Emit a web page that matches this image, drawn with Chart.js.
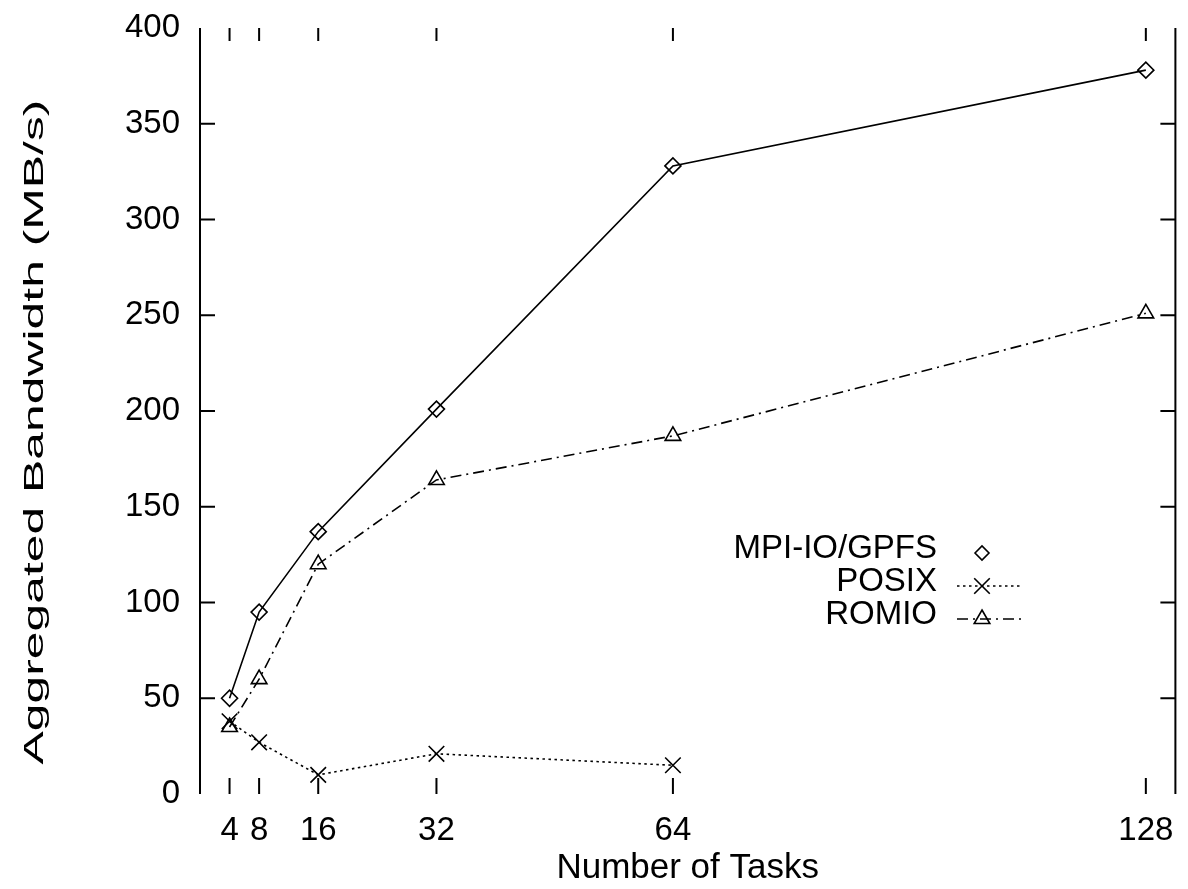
<!DOCTYPE html>
<html><head><meta charset="utf-8">
<script src="https://cdn.jsdelivr.net/npm/chart.js@4.4.0/dist/chart.umd.min.js"></script>
<style>html,body{margin:0;padding:0;background:#fff;overflow:hidden}</style>
</head><body>
<canvas id="c" width="1188" height="889"></canvas>
<script>
// ---- data ----
const tasks = [4, 8, 16, 32, 64, 128];
const mpiioGpfs = [50, 95, 137, 201, 328, 378];
const posixTasks = [4, 8, 16, 32, 64];
const posix = [38, 27, 10, 21, 15];
const romio = [35, 60, 120, 164, 187, 251];
const xTickValues = [4, 8, 16, 32, 64, 128];
const yTickValues = [0, 50, 100, 150, 200, 250, 300, 350, 400];
const seriesLabels = ['MPI-IO/GPFS', 'POSIX', 'ROMIO'];
const xTitle = 'Number of Tasks';
const yTitle = 'Aggregated Bandwidth (MB/s)';

const FONT = "'Liberation Sans', Arial, Helvetica, sans-serif";
Chart.defaults.font.family = FONT;
Chart.defaults.color = '#000';

const toXY = (xs, ys) => xs.map((x, i) => ({x: x, y: ys[i]}));

// frame: left/right borders and inward ticks on all four sides
const framePlugin = {
  id: 'frame',
  afterDraw(chart) {
    const {ctx, chartArea: a, scales: {x, y}} = chart;
    ctx.save();
    ctx.strokeStyle = '#000';
    ctx.lineWidth = 2;
    ctx.beginPath();
    ctx.moveTo(a.left, a.top); ctx.lineTo(a.left, a.bottom);
    ctx.moveTo(a.right, a.top); ctx.lineTo(a.right, a.bottom);
    const L = 15;
    yTickValues.forEach(v => {
      if (v === 0 || v === 400) return;
      const py = y.getPixelForValue(v);
      ctx.moveTo(a.left, py); ctx.lineTo(a.left + L, py);
      ctx.moveTo(a.right, py); ctx.lineTo(a.right - L, py);
    });
    xTickValues.forEach(v => {
      const px = x.getPixelForValue(v);
      ctx.moveTo(px, a.top); ctx.lineTo(px, a.top + 13);
      ctx.moveTo(px, a.bottom); ctx.lineTo(px, a.bottom - 16);
    });
    ctx.stroke();

    // y axis title (stretched along its direction like the scanned original)
    ctx.font = '28px ' + FONT;
    ctx.fillStyle = '#000';
    ctx.textAlign = 'center';
    ctx.textBaseline = 'alphabetic';
    ctx.translate(43, 432);
    ctx.rotate(-Math.PI / 2);
    ctx.scale(1.78, 1);
    ctx.fillText(yTitle, 0, 0);
    ctx.restore();
  }
};

// gnuplot-like key: right-aligned text, sample on the right
const keyPlugin = {
  id: 'key',
  afterDraw(chart) {
    const {ctx} = chart;
    const textRight = 937, sampleL = 957, sampleR = 1022, markX = 982;
    const baselines = [558, 591, 624];
    ctx.save();
    ctx.font = '33px ' + FONT;
    ctx.fillStyle = '#000';
    ctx.textAlign = 'right';
    ctx.textBaseline = 'alphabetic';
    chart.data.datasets.forEach((ds, i) => {
      const b = baselines[i];
      ctx.fillStyle = '#000';
      ctx.fillText(ds.label, textRight, b);
      const my = b - 5;
      if (i > 0) {
        ctx.save();
        ctx.strokeStyle = '#000';
        ctx.lineWidth = ds.borderWidth;
        ctx.setLineDash(ds.borderDash || []);
        ctx.beginPath();
        ctx.moveTo(sampleL, my); ctx.lineTo(sampleR, my);
        ctx.stroke();
        ctx.restore();
      }
      ctx.strokeStyle = '#000';
      ctx.lineWidth = ds.pointBorderWidth;
      ctx.fillStyle = 'rgba(0,0,0,0)';
      Chart.helpers.drawPoint(ctx, {pointStyle: ds.pointStyle, radius: ds.pointRadius - (i === 0 ? 1 : 0), rotation: 0, borderWidth: ds.pointBorderWidth}, markX, my);
    });
    ctx.restore();
  }
};

new Chart(document.getElementById('c'), {
  type: 'line',
  data: {
    datasets: [
      {label: seriesLabels[0], data: toXY(tasks, mpiioGpfs), borderColor: '#000', borderWidth: 1.6,
       pointStyle: 'rectRot', pointRadius: 8, pointBorderWidth: 1.6, pointBorderColor: '#000',
       pointBackgroundColor: 'rgba(0,0,0,0)', backgroundColor: 'rgba(0,0,0,0)', tension: 0},
      {label: seriesLabels[1], data: toXY(posixTasks, posix), borderColor: '#000', borderWidth: 1.6,
       borderDash: [2.5, 3.5], pointStyle: 'crossRot', pointRadius: 11, pointBorderWidth: 1.6,
       pointBorderColor: '#000', pointBackgroundColor: 'rgba(0,0,0,0)', backgroundColor: 'rgba(0,0,0,0)', tension: 0},
      {label: seriesLabels[2], data: toXY(tasks, romio), borderColor: '#000', borderWidth: 1.6,
       borderDash: [11, 5, 2, 5], pointStyle: 'triangle', pointRadius: 9, pointBorderWidth: 1.6,
       pointBorderColor: '#000', pointBackgroundColor: 'rgba(0,0,0,0)', backgroundColor: 'rgba(0,0,0,0)', tension: 0}
    ]
  },
  options: {
    responsive: false,
    animation: false,
    events: [],
    layout: {padding: {top: 28, right: 11, bottom: 0, left: 0}},
    plugins: {legend: {display: false}, tooltip: {enabled: false}},
    scales: {
      x: {
        type: 'linear', min: 0, max: 132,
        afterBuildTicks: s => { s.ticks = xTickValues.map(v => ({value: v})); },
        afterFit: s => { s.height = 95; s.paddingLeft = 0; s.paddingRight = 0; },
        grid: {display: false, drawTicks: false},
        border: {display: false},
        ticks: {autoSkip: false, maxRotation: 0, padding: 17, font: {size: 33}, color: '#000'},
        title: {display: true, text: xTitle, font: {size: 35}, color: '#000', padding: {top: 0, bottom: 0}}
      },
      y: {
        type: 'linear', min: 0, max: 400,
        afterBuildTicks: s => { s.ticks = yTickValues.map(v => ({value: v})); },
        afterFit: s => { s.width = 200; s.paddingTop = 0; s.paddingBottom = 0; },
        grid: {display: false, drawTicks: false},
        border: {display: false},
        ticks: {padding: 20, font: {size: 33}, color: '#000'},
        title: {display: false, text: yTitle}
      }
    }
  },
  plugins: [framePlugin, keyPlugin]
});
</script>
</body></html>
